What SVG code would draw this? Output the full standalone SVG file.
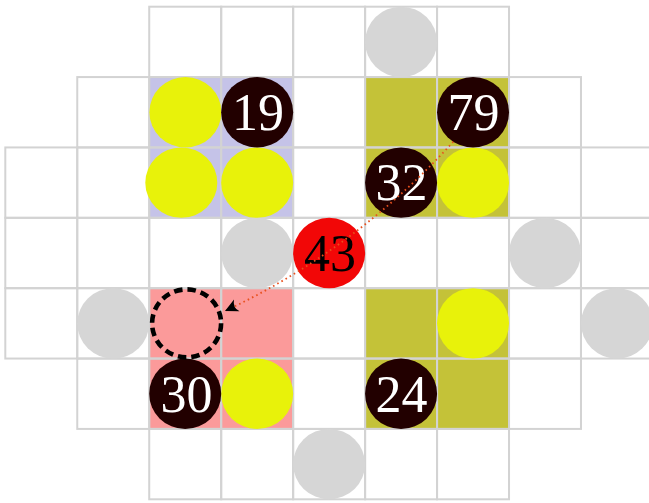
<svg xmlns="http://www.w3.org/2000/svg" width="649" height="503" viewBox="0 0 649 503">
<defs>
<style>
.cell{fill:none;stroke:#d3d3d3;stroke-width:2}
.gray{fill:#d6d6d6}
.yel{fill:#e8f20a}
.dark{fill:#220000}
.lbl{font-family:"Liberation Serif","Times New Roman",serif;font-size:52px;text-anchor:middle;fill:#ffffff}
.lblk{fill:#000000}
.conn{fill:none;stroke:#e8501e;stroke-width:1.8;stroke-dasharray:1.6 3.2}
</style>
<marker id="arr" markerUnits="userSpaceOnUse" markerWidth="18" markerHeight="16" viewBox="-15 -8 18 16" refX="0" refY="0" orient="auto">
<path d="M0,0 L-13,-6.5 Q-8,-0.5 -13,6.5 Z" fill="#000000"/>
</marker>
</defs>
<rect x="0" y="0" width="649" height="503" fill="#ffffff"/>
<g id="regions">
<rect x="149.22" y="77.07" width="143.92" height="140.74" rx="3" fill="#c5c3e8"/>
<rect x="365.1" y="77.07" width="143.92" height="140.74" rx="3" fill="#c4c238"/>
<rect x="149.22" y="288.18" width="143.92" height="140.74" rx="3" fill="#fb9a9a"/>
<rect x="365.1" y="288.18" width="143.92" height="140.74" rx="3" fill="#c4c238"/>
</g>
<g id="grid">
<rect class="cell" x="149.22" y="6.7" width="71.96" height="70.37"/>
<rect class="cell" x="221.18" y="6.7" width="71.96" height="70.37"/>
<rect class="cell" x="293.14" y="6.7" width="71.96" height="70.37"/>
<rect class="cell" x="365.1" y="6.7" width="71.96" height="70.37"/>
<rect class="cell" x="437.06" y="6.7" width="71.96" height="70.37"/>
<rect class="cell" x="77.26" y="77.07" width="71.96" height="70.37"/>
<rect class="cell" x="149.22" y="77.07" width="71.96" height="70.37"/>
<rect class="cell" x="221.18" y="77.07" width="71.96" height="70.37"/>
<rect class="cell" x="293.14" y="77.07" width="71.96" height="70.37"/>
<rect class="cell" x="365.1" y="77.07" width="71.96" height="70.37"/>
<rect class="cell" x="437.06" y="77.07" width="71.96" height="70.37"/>
<rect class="cell" x="509.02" y="77.07" width="71.96" height="70.37"/>
<rect class="cell" x="5.3" y="147.44" width="71.96" height="70.37"/>
<rect class="cell" x="77.26" y="147.44" width="71.96" height="70.37"/>
<rect class="cell" x="149.22" y="147.44" width="71.96" height="70.37"/>
<rect class="cell" x="221.18" y="147.44" width="71.96" height="70.37"/>
<rect class="cell" x="293.14" y="147.44" width="71.96" height="70.37"/>
<rect class="cell" x="365.1" y="147.44" width="71.96" height="70.37"/>
<rect class="cell" x="437.06" y="147.44" width="71.96" height="70.37"/>
<rect class="cell" x="509.02" y="147.44" width="71.96" height="70.37"/>
<rect class="cell" x="580.98" y="147.44" width="71.96" height="70.37"/>
<rect class="cell" x="5.3" y="217.81" width="71.96" height="70.37"/>
<rect class="cell" x="77.26" y="217.81" width="71.96" height="70.37"/>
<rect class="cell" x="149.22" y="217.81" width="71.96" height="70.37"/>
<rect class="cell" x="221.18" y="217.81" width="71.96" height="70.37"/>
<rect class="cell" x="293.14" y="217.81" width="71.96" height="70.37"/>
<rect class="cell" x="365.1" y="217.81" width="71.96" height="70.37"/>
<rect class="cell" x="437.06" y="217.81" width="71.96" height="70.37"/>
<rect class="cell" x="509.02" y="217.81" width="71.96" height="70.37"/>
<rect class="cell" x="580.98" y="217.81" width="71.96" height="70.37"/>
<rect class="cell" x="5.3" y="288.18" width="71.96" height="70.37"/>
<rect class="cell" x="77.26" y="288.18" width="71.96" height="70.37"/>
<rect class="cell" x="149.22" y="288.18" width="71.96" height="70.37"/>
<rect class="cell" x="221.18" y="288.18" width="71.96" height="70.37"/>
<rect class="cell" x="293.14" y="288.18" width="71.96" height="70.37"/>
<rect class="cell" x="365.1" y="288.18" width="71.96" height="70.37"/>
<rect class="cell" x="437.06" y="288.18" width="71.96" height="70.37"/>
<rect class="cell" x="509.02" y="288.18" width="71.96" height="70.37"/>
<rect class="cell" x="580.98" y="288.18" width="71.96" height="70.37"/>
<rect class="cell" x="77.26" y="358.55" width="71.96" height="70.37"/>
<rect class="cell" x="149.22" y="358.55" width="71.96" height="70.37"/>
<rect class="cell" x="221.18" y="358.55" width="71.96" height="70.37"/>
<rect class="cell" x="293.14" y="358.55" width="71.96" height="70.37"/>
<rect class="cell" x="365.1" y="358.55" width="71.96" height="70.37"/>
<rect class="cell" x="437.06" y="358.55" width="71.96" height="70.37"/>
<rect class="cell" x="509.02" y="358.55" width="71.96" height="70.37"/>
<rect class="cell" x="149.22" y="428.92" width="71.96" height="70.37"/>
<rect class="cell" x="221.18" y="428.92" width="71.96" height="70.37"/>
<rect class="cell" x="293.14" y="428.92" width="71.96" height="70.37"/>
<rect class="cell" x="365.1" y="428.92" width="71.96" height="70.37"/>
<rect class="cell" x="437.06" y="428.92" width="71.96" height="70.37"/>
</g>
<g id="gray-stones">
<ellipse class="gray" cx="401.08" cy="41.89" rx="36" ry="35.2"/>
<ellipse class="gray" cx="257.16" cy="253" rx="36" ry="35.2"/>
<ellipse class="gray" cx="545" cy="253" rx="36" ry="35.2"/>
<ellipse class="gray" cx="113.24" cy="323.37" rx="36" ry="35.2"/>
<ellipse class="gray" cx="616.96" cy="323.37" rx="36" ry="35.2"/>
<ellipse class="gray" cx="329.12" cy="464.1" rx="36" ry="35.2"/>
</g>
<g id="yellow-stones">
<ellipse class="yel" cx="185.4" cy="112.26" rx="36" ry="35.2"/>
<ellipse class="yel" cx="181.3" cy="182.63" rx="36" ry="35.2"/>
<ellipse class="yel" cx="257.16" cy="182.63" rx="36" ry="35.2"/>
<ellipse class="yel" cx="473.04" cy="182.63" rx="36" ry="35.2"/>
<ellipse class="yel" cx="473.04" cy="323.37" rx="36" ry="35.2"/>
<ellipse class="yel" cx="257.16" cy="393.74" rx="36" ry="35.2"/>
</g>
<g id="n19">
<ellipse class="dark" cx="257.16" cy="112.26" rx="36" ry="35.2"/>
<text class="lbl" x="258" y="130">19</text>
</g>
<g id="n79">
<ellipse class="dark" cx="473.04" cy="112.26" rx="36" ry="35.2"/>
<text class="lbl" x="473.5" y="130">79</text>
</g>
<g id="n32">
<ellipse class="dark" cx="401.08" cy="182.63" rx="36" ry="35.2"/>
<text class="lbl" x="401.5" y="200.4">32</text>
</g>
<g id="n30">
<ellipse class="dark" cx="185.2" cy="393.74" rx="36" ry="35.2"/>
<text class="lbl" x="186.5" y="411.5">30</text>
</g>
<g id="n24">
<ellipse class="dark" cx="401.08" cy="393.74" rx="36" ry="35.2"/>
<text class="lbl" x="401.5" y="411.5">24</text>
</g>
<g id="n43">
<ellipse cx="329.12" cy="253" rx="36" ry="35.2" fill="#f20707"/>
<text class="lbl lblk" x="330" y="271">43</text>
</g>
<g id="target">
<ellipse cx="186.6" cy="323.37" rx="34.5" ry="34" fill="none" stroke="#000000" stroke-width="4.6" stroke-dasharray="8.5 5"/>
</g>
<g id="connectors">
<path class="conn" d="M453.3,141.7 Q355,250 225,311" marker-end="url(#arr)"/>
</g>
</svg>
